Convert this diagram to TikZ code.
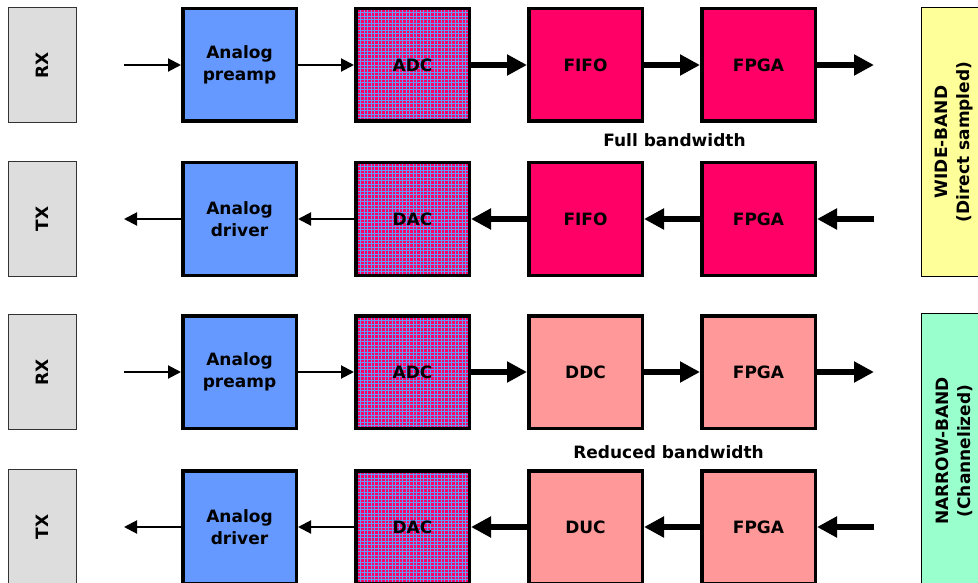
\documentclass[tikz,border=0pt]{standalone}
\usepackage{fontspec}
\setmainfont{DejaVu Sans}
\usetikzlibrary{positioning,arrows.meta,patterns}
\definecolor{ampblue}{HTML}{6699FF}
\definecolor{hotred}{HTML}{FF0066}
\definecolor{salmon}{HTML}{FF9999}
\definecolor{ioGray}{HTML}{DDDDDD}
\definecolor{wideyellow}{HTML}{FFFF99}
\definecolor{narrowgreen}{HTML}{99FFCC}
% thin blue mesh on the converters
\pgfdeclarepatternformonly{finegrid}{\pgfqpoint{-1pt}{-1pt}}{\pgfqpoint{4.5pt}{4.5pt}}{\pgfqpoint{3.5pt}{3.5pt}}{
  \pgfsetlinewidth{0.5pt}
  \pgfpathmoveto{\pgfqpoint{0pt}{0pt}}\pgfpathlineto{\pgfqpoint{0pt}{3.6pt}}
  \pgfpathmoveto{\pgfqpoint{0pt}{0pt}}\pgfpathlineto{\pgfqpoint{3.6pt}{0pt}}
  \pgfusepath{stroke}}

\begin{document}
\begin{tikzpicture}[x=1pt, y=-1pt, node distance=56pt, font=\fontsize{17}{22}\selectfont\bfseries,
  main/.style = {draw, line width=3.5pt, minimum width=113.5pt, minimum height=112.5pt, inner sep=0pt, align=center},
  io/.style = {draw=black!80, line width=1pt, fill=ioGray, minimum width=68pt, minimum height=115pt},
  conv/.style = {main, preaction={fill=hotred}, pattern=finegrid, pattern color=ampblue},
  sig/.style = {line width=2pt, -{Triangle[length=13pt,width=13pt]}},
  bus/.style = {line width=5.5pt, -{Triangle[length=20pt,width=20pt]}},
  band/.style = {draw, line width=1pt, rotate=90, minimum height=66pt, align=center}]
\useasboundingbox (0,0) rectangle (978,583);

% wide-band receive
\node[io] (rx1) at (42.5,65) {\rotatebox{90}{RX}};
\node[main, fill=ampblue] (amp1) at (239.5,65) {Analog\\preamp};
\node[conv] (adc1) [right=of amp1] {ADC};
\node[main, fill=hotred] (fifo1) [right=of adc1] {FIFO};
\node[main, fill=hotred] (fpga1) [right=of fifo1] {FPGA};
\coordinate[left=57pt of amp1] (in1);
\coordinate[right=57pt of fpga1] (out1);
\draw[sig] (in1) -- (amp1);
\draw[sig] (amp1) -- (adc1);
\draw[bus] (adc1) -- (fifo1);
\draw[bus] (fifo1) -- (fpga1);
\draw[bus] (fpga1) -- (out1);

\node (full) at (674.5,140) {Full bandwidth};

% wide-band transmit
\node[io] (tx2) at (42.5,219) {\rotatebox{90}{TX}};
\node[main, fill=ampblue] (amp2) at (239.5,219) {Analog\\driver};
\node[conv] (dac2) [right=of amp2] {DAC};
\node[main, fill=hotred] (fifo2) [right=of dac2] {FIFO};
\node[main, fill=hotred] (fpga2) [right=of fifo2] {FPGA};
\coordinate[right=57pt of fpga2] (in2);
\coordinate[left=57pt of amp2] (out2);
\draw[bus] (in2) -- (fpga2);
\draw[bus] (fpga2) -- (fifo2);
\draw[bus] (fifo2) -- (dac2);
\draw[sig] (dac2) -- (amp2);
\draw[sig] (amp2) -- (out2);

% narrow-band receive
\node[io] (rx3) at (42.5,372) {\rotatebox{90}{RX}};
\node[main, fill=ampblue] (amp3) at (239.5,372) {Analog\\preamp};
\node[conv] (adc3) [right=of amp3] {ADC};
\node[main, fill=salmon] (ddc3) [right=of adc3] {DDC};
\node[main, fill=salmon] (fpga3) [right=of ddc3] {FPGA};
\coordinate[left=57pt of amp3] (in3);
\coordinate[right=57pt of fpga3] (out3);
\draw[sig] (in3) -- (amp3);
\draw[sig] (amp3) -- (adc3);
\draw[bus] (adc3) -- (ddc3);
\draw[bus] (ddc3) -- (fpga3);
\draw[bus] (fpga3) -- (out3);

\node (reduced) at (668.5,452) {Reduced bandwidth};

% narrow-band transmit
\node[io] (tx4) at (42.5,527) {\rotatebox{90}{TX}};
\node[main, fill=ampblue] (amp4) at (239.5,527) {Analog\\driver};
\node[conv] (dac4) [right=of amp4] {DAC};
\node[main, fill=salmon] (duc4) [right=of dac4] {DUC};
\node[main, fill=salmon] (fpga4) [right=of duc4] {FPGA};
\coordinate[right=57pt of fpga4] (in4);
\coordinate[left=57pt of amp4] (out4);
\draw[bus] (in4) -- (fpga4);
\draw[bus] (fpga4) -- (duc4);
\draw[bus] (duc4) -- (dac4);
\draw[sig] (dac4) -- (amp4);
\draw[sig] (amp4) -- (out4);

% band labels
\node[band, fill=wideyellow, minimum width=269pt] (wide) at (954,142) {WIDE-BAND\\(Direct sampled)};
\node[band, fill=narrowgreen, minimum width=275pt] (narrow) at (954,451) {NARROW-BAND\\(Channelized)};
\end{tikzpicture}
\end{document}
